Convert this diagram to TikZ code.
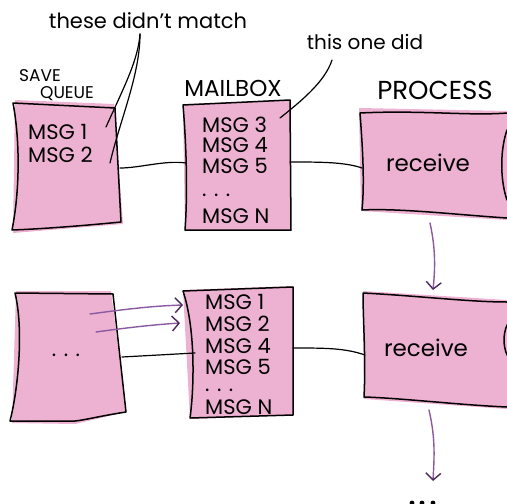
\documentclass[tikz,border=0pt]{standalone}
\usepackage{fontspec}
\setmainfont{Poppins}
\usetikzlibrary{arrows.meta}
\definecolor{boxpink}{HTML}{EDB1D1}
\definecolor{arrowpurple}{HTML}{8A5AA0}
\definecolor{headpurple}{HTML}{4A2A5A}
\begin{document}
\begin{tikzpicture}[x=1pt,y=-1pt,line join=round,line cap=round,
  outline/.style={draw=black,line width=1.5pt},
  paper/.style={fill=boxpink},
  conn/.style={draw=black,line width=1.2pt},
  parrow/.style={draw=arrowpurple,line width=1.4pt,-{Straight Barb[length=7pt,width=15pt,line width=1.4pt,color=headpurple]}},
  msg/.style={font=\fontsize{21}{24}\selectfont,anchor=west,inner sep=0pt},
  lbl/.style={inner sep=0pt}]
\useasboundingbox (0,0) rectangle (507,504);

% ---------- top row ----------
% save queue
\fill[paper] (15,100) -- (114,104) -- (123,224) -- (13,233) -- cycle;
\draw[outline] (13,103) -- (115,108) -- (121,222) .. controls (80,226) and (40,229) .. (12,230) .. controls (20,190) and (20,140) .. cycle;
\coordinate (sq1r) at (120,168);
% mailbox
\fill[paper] (183,104) -- (291,100) -- (291,230) -- (185,231) -- cycle;
\draw[outline] (183,105) -- (290,100) -- (291,230) -- (185,230) .. controls (188,190) and (186,140) .. cycle;
\coordinate (mb1l) at (186,163);
\coordinate (mb1r) at (290,162);
% process
\fill[paper] (359,108) -- (507,111) -- (507,220) -- (361,211) -- cycle;
\draw[outline] (360,113) .. controls (420,110) and (470,116) .. (507,113)
  (507,218) .. controls (460,215) and (400,208) .. (362,210) .. controls (365,180) and (362,140) .. (360,113);
\draw[outline] (507,130) .. controls (500,150) and (500,180) .. (507,200);
\coordinate (pr1l) at (362,168);
\coordinate (pr1b) at (430,223);

% labels
\node[lbl,font=\fontsize{21}{24}\selectfont] (t1) at (148,21) {these didn’t match};
\coordinate (t1s) at (140,34);
\node[lbl,font=\fontsize{17}{19}\selectfont] (save) at (40,76) {SAVE};
\node[lbl,font=\fontsize{17}{19}\selectfont] (queue) at (67,94) {QUEUE};
\node[lbl,font=\fontsize{23}{25}\selectfont] (mailbox) at (233,88) {MAILBOX};
\node[lbl,font=\fontsize{26}{28}\selectfont] (process) at (435,90) {PROCESS};
\node[lbl,font=\fontsize{20}{22}\selectfont] (t2) at (365,42) {this one did};
\coordinate (t2s) at (332,60);

\node[msg] (q1) at (28,132) {MSG 1};
\node[msg] (q2) at (28,155) {MSG 2};
\node[msg] (m3) at (202,125) {MSG 3};
\node[msg] (m4) at (202,145) {MSG 4};
\node[msg] (m5) at (202,166) {MSG 5};
\node[msg] (md) at (202,195) {. . .};
\node[msg] (mn) at (202,216) {MSG N};
\node[lbl,font=\fontsize{23}{25}\selectfont] (rc1) at (428,163) {receive};

\draw[conn] (t1s) .. controls (138,60) and (125,85) .. (106,127);
\draw[conn] (t1s) .. controls (140,75) and (120,120) .. (110,163);
\draw[conn] (t2s) .. controls (325,82) and (300,102) .. (280,118);
\draw[conn] (sq1r) .. controls (140,168) and (165,160) .. (mb1l);
\draw[conn] (mb1r) .. controls (320,162) and (345,162) .. (pr1l);

% ---------- bottom row ----------
\fill[paper] (16,291) -- (111,291) -- (126,412) -- (75,424) -- (12,423) -- cycle;
\draw[outline] (15,293) -- (113,294) -- (126,412) .. controls (100,416) and (85,420) .. (75,421) -- (10,421) .. controls (18,390) and (24,330) .. cycle;
\coordinate (sq2r) at (122,357);
\coordinate (a1s) at (90,314);
\coordinate (a2s) at (96,332);
\node[lbl,font=\fontsize{21}{24}\selectfont] (qd) at (66,355) {. . .};

\fill[paper] (183,290) -- (293,286) -- (294,415) -- (190,419) -- cycle;
\draw[outline] (183,291) -- (293,287) -- (293,415) -- (190,418) .. controls (194,390) and (196,330) .. cycle;
\coordinate (mb2l) at (195,353);
\coordinate (mb2r) at (293,348);
\coordinate (a1e) at (183,305);
\coordinate (a2e) at (180,323);

\node[msg] (n1) at (205,302) {MSG 1};
\node[msg] (n2) at (205,324) {MSG 2};
\node[msg] (n4) at (205,346) {MSG 4};
\node[msg] (n5) at (205,367) {MSG 5};
\node[msg] (nd) at (205,390) {. . .};
\node[msg] (nn) at (205,407) {MSG N};

\fill[paper] (363,291) -- (507,300) -- (507,409) -- (364,399) -- cycle;
\draw[outline] (363,293) .. controls (420,296) and (470,302) .. (507,302)
  (507,407) .. controls (460,405) and (400,398) .. (364,397) .. controls (366,360) and (363,320) .. (363,293);
\draw[outline] (507,325) .. controls (503,335) and (503,345) .. (507,355);
\coordinate (pr2l) at (365,355);
\coordinate (pr2t) at (433,290);
\coordinate (pr2b) at (429,410);
\coordinate (endp) at (433,481);
\node[lbl,font=\fontsize{23}{25}\selectfont] (rc2) at (426,348) {receive};

\draw[conn] (sq2r) -- (mb2l);
\draw[conn] (mb2r) .. controls (325,348) and (345,348) .. (pr2l);
\draw[parrow] (a1s) .. controls (120,310) and (150,306) .. (a1e);
\draw[parrow] (a2s) .. controls (125,328) and (150,325) .. (a2e);
\draw[parrow] (pr1b) .. controls (436,250) and (435,270) .. (pr2t);
\draw[parrow] (pr2b) .. controls (436,440) and (434,460) .. (endp);

\fill (412,503) circle (2.4) (422,503) circle (2.4) (433,503) circle (2.4);
\end{tikzpicture}
\end{document}
